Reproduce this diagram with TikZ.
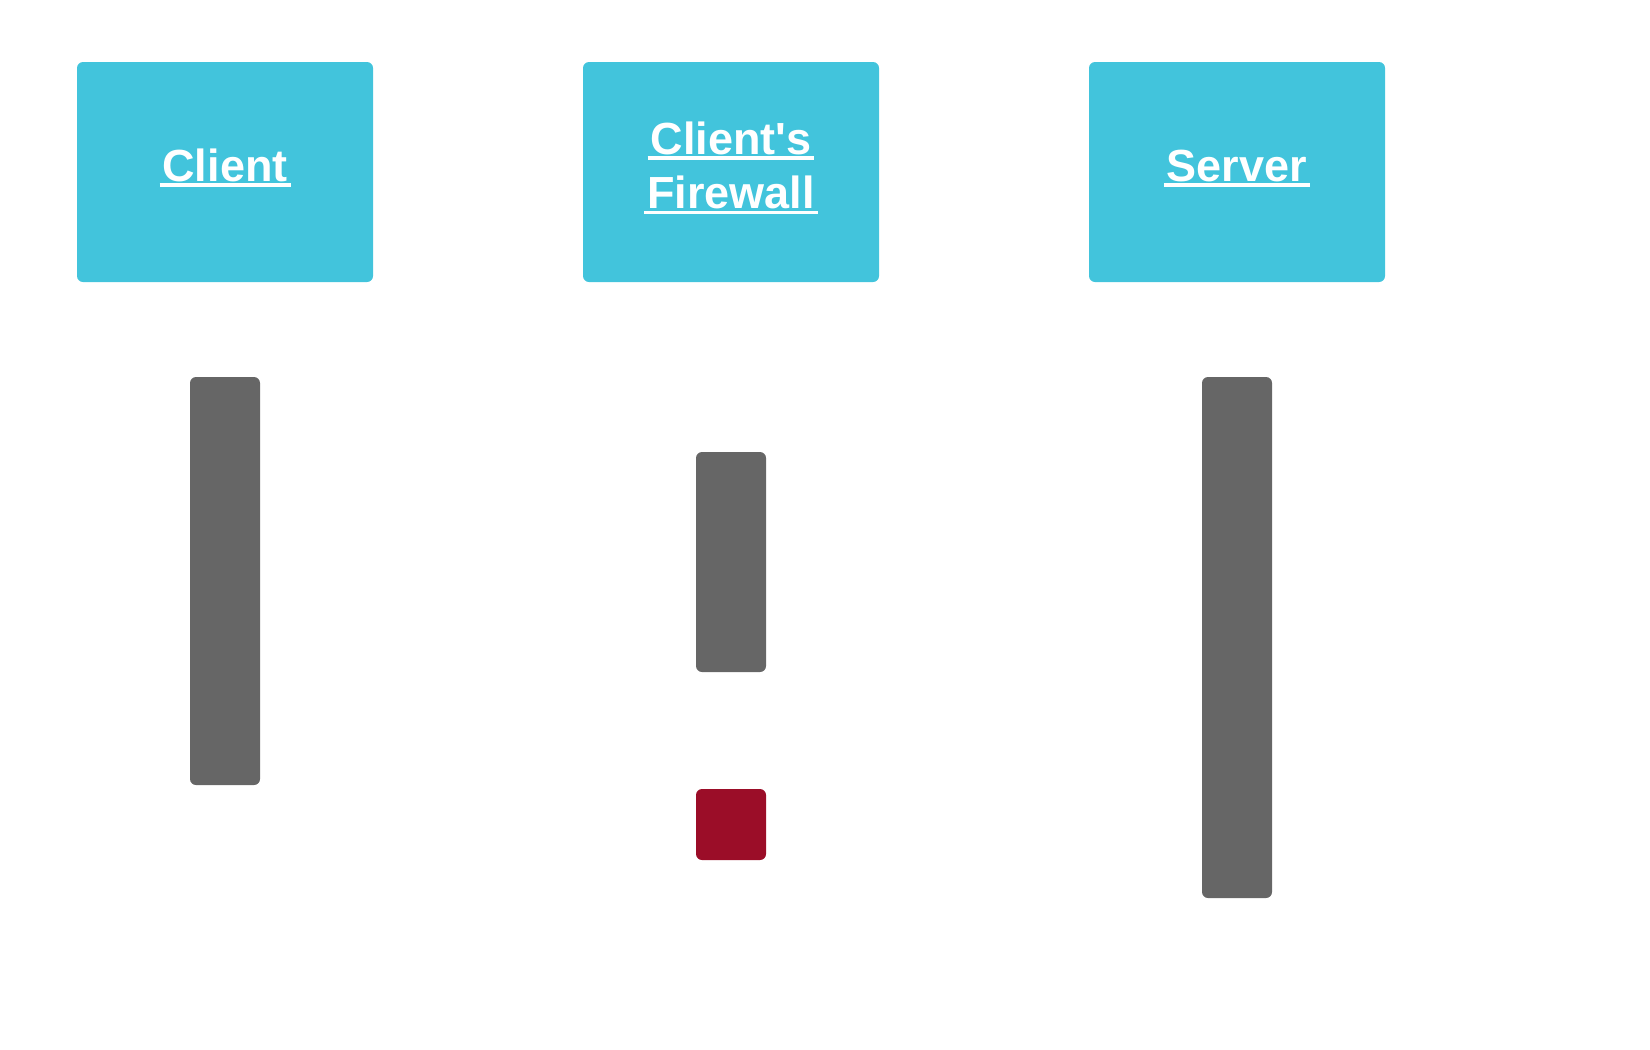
\documentclass[tikz,border=0pt]{standalone}
\usepackage{fontspec}
\setmainfont{Liberation Sans}
\usepackage{tikz}
\usetikzlibrary{positioning}
\definecolor{lifeblue}{HTML}{42C4DC}
\definecolor{bargray}{HTML}{666666}
\definecolor{dropred}{HTML}{9B0D28}
\newcommand\ulined[1]{\setbox0\hbox{#1}\rlap{\kern-3pt\rule[-5.5pt]{\dimexpr\wd0+6pt\relax}{3.5pt}}\box0}
\tikzstyle{actor}=[fill=lifeblue, rounded corners=6pt, inner sep=0pt, minimum width=296pt, minimum height=220pt, text=white, font=\bfseries\fontsize{45}{54.5}\selectfont, align=center]
\tikzstyle{activation}=[fill=bargray, rounded corners=6pt, inner sep=0pt, minimum width=70pt]
\begin{document}
\begin{tikzpicture}[x=1pt, y=-1pt]
\useasboundingbox (0,0) rectangle (1650,1050);
\node [actor, text height=34pt, text depth=16pt] (client) at (225,172) {\ulined{Client}};
\node [actor, text height=88pt, text depth=15pt] (firewall) at (731,172) {\ulined{Client\textquotesingle s}\\\ulined{Firewall}};
\node [actor, text height=34pt, text depth=16pt] (server) at (1237,172) {\ulined{Server}};

\node [activation, minimum height=408pt] (clientbar) at (225,581){};
\node [activation, minimum height=220pt] (fwbar) at (731,562){};
\node [activation, fill=dropred, minimum height=71pt] (fwdrop) at (731,824.5){};
\node [activation, minimum height=521pt] (serverbar) at (1237,637.5){};
\end{tikzpicture}
\end{document}
